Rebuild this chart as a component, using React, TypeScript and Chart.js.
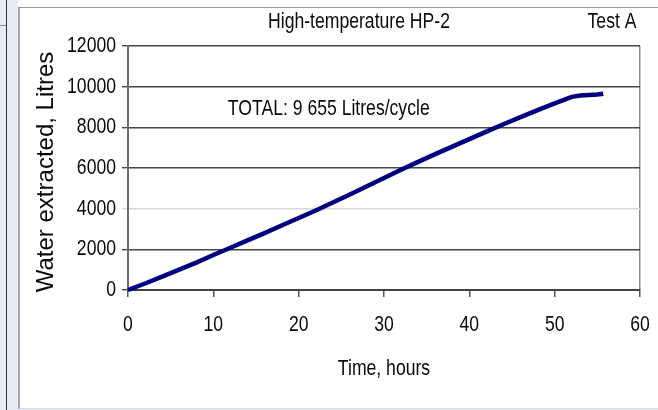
import React, { useEffect, useRef } from "react";
import { Chart, registerables } from "chart.js";

Chart.register(...registerables);

const TITLE = "High-temperature HP-2";
const TEST_LABEL = "Test A";
const TOTAL_TEXT = "TOTAL: 9 655 Litres/cycle";
const TOTAL_AT_HOURS = 11.7;
const TOTAL_AT_LITRES = 8900;
const X_TITLE = "Time, hours";
const Y_TITLE = "Water extracted, Litres";

const hours = [0, 2, 4, 6, 8, 10, 12, 14, 16, 18, 20, 22, 24, 26, 28, 30, 32, 34, 36, 38, 40, 42, 44, 46, 48, 50, 52, 53, 54, 55, 55.7];
const litres = [0, 320, 660, 1000, 1350, 1720, 2080, 2440, 2800, 3170, 3540, 3910, 4300, 4700, 5100, 5510, 5910, 6300, 6680, 7050, 7420, 7790, 8150, 8500, 8850, 9180, 9500, 9570, 9590, 9610, 9655];

const xTicks = [0, 10, 20, 30, 40, 50, 60];
const yTicks = [0, 2000, 4000, 6000, 8000, 10000, 12000];

const FONT = '"Liberation Sans", Arial, sans-serif';
const SQUEEZE = 0.8;

function drawText(ctx: any, text: string, x: number, y: number, align: string) {
  ctx.save();
  ctx.translate(x, y);
  ctx.scale(SQUEEZE, 1);
  ctx.textAlign = align;
  ctx.textBaseline = "middle";
  ctx.fillText(text, 0, 0);
  ctx.restore();
}

const textPlugin = {
  id: "chartTexts",
  afterDraw(chart: any) {
    const { ctx, chartArea, scales } = chart;
    ctx.save();
    ctx.fillStyle = "#0a0a0a";
    ctx.font = `22px ${FONT}`;
    drawText(ctx, TITLE, chartArea.left + 231, chartArea.top - 24, "center");
    drawText(ctx, TEST_LABEL, chartArea.right - 28, chartArea.top - 24, "center");
    drawText(
      ctx,
      TOTAL_TEXT,
      scales.x.getPixelForValue(TOTAL_AT_HOURS),
      scales.y.getPixelForValue(TOTAL_AT_LITRES),
      "left"
    );
    yTicks.forEach((v) => {
      drawText(ctx, String(v), chartArea.left - 12, scales.y.getPixelForValue(v), "right");
    });
    xTicks.forEach((v) => {
      drawText(ctx, String(v), scales.x.getPixelForValue(v), chartArea.bottom + 35, "center");
    });
    drawText(ctx, X_TITLE, (chartArea.left + chartArea.right) / 2, chartArea.bottom + 79, "center");
    ctx.font = `24px ${FONT}`;
    ctx.translate(46, (chartArea.top + chartArea.bottom) / 2 + 4);
    ctx.rotate(-Math.PI / 2);
    ctx.textAlign = "center";
    ctx.textBaseline = "middle";
    ctx.fillText(Y_TITLE, 0, 0);
    ctx.restore();
  },
};

export default function App() {
  const ref = useRef<HTMLCanvasElement | null>(null);

  useEffect(() => {
    if (!ref.current) return;
    const chart = new Chart(ref.current, {
      type: "line",
      data: {
        datasets: [
          {
            data: hours.map((h, i) => ({ x: h, y: litres[i] })),
            borderColor: "#000080",
            backgroundColor: "#000080",
            borderWidth: 4.5,
            pointRadius: 0,
            tension: 0,
            clip: false as any,
          },
        ],
      },
      options: {
        responsive: false,
        animation: false,
        devicePixelRatio: 1,
        layout: { padding: { left: 0, right: 18, top: 46, bottom: 0 } },
        plugins: {
          legend: { display: false },
          tooltip: { enabled: false },
          title: { display: false },
        },
        scales: {
          x: {
            type: "linear",
            min: 0,
            max: 60,
            afterFit: (s: any) => {
              s.height = 120;
            },
            afterBuildTicks: (s: any) => {
              s.ticks = xTicks.map((v) => ({ value: v }));
            },
            ticks: { display: false },
            grid: {
              color: (c: any) => (c.tick && c.tick.value === 60 ? "#8a8a8a" : "rgba(0,0,0,0)"),
              tickColor: "#555",
              tickLength: 7,
              lineWidth: 1.5,
            },
            border: { color: "#444", width: 2 },
          },
          y: {
            type: "linear",
            min: 0,
            max: 12000,
            afterFit: (s: any) => {
              s.width = 128;
            },
            afterBuildTicks: (s: any) => {
              s.ticks = yTicks.map((v) => ({ value: v }));
            },
            ticks: { display: false },
            grid: {
              color: (c: any) => (c.tick && c.tick.value === 4000 ? "#d8d8d8" : "#474747"),
              tickLength: 6,
              lineWidth: 1.4,
            },
            border: { color: "#6e6e6e", width: 2 },
          },
        },
      },
      plugins: [textPlugin],
    });
    return () => chart.destroy();
  }, []);

  return (
    <div style={{ position: "absolute", left: 0, top: 0, width: 658, height: 410, background: "#e6ecf7", overflow: "hidden" }}>
      <div style={{ position: "absolute", left: 6, top: 0, width: 1, height: 410, background: "#333" }} />
      <div style={{ position: "absolute", left: 0, top: 25, width: 6, height: 1, background: "#8a8a8a" }} />
      <div
        style={{
          position: "absolute",
          left: 18,
          top: 7,
          width: 640,
          height: 402,
          boxSizing: "border-box",
          background: "#fff",
          borderLeft: "2px solid #a6a6a6",
          borderTop: "1px solid #9a9a9a",
          borderBottom: "1px solid #dcdcdc",
        }}
      />
      <div style={{ position: "absolute", left: 18, top: 0, width: 640, height: 7, background: "#fff" }} />
      <canvas ref={ref} width={658} height={410} style={{ position: "absolute", left: 0, top: 0 }} />
    </div>
  );
}
